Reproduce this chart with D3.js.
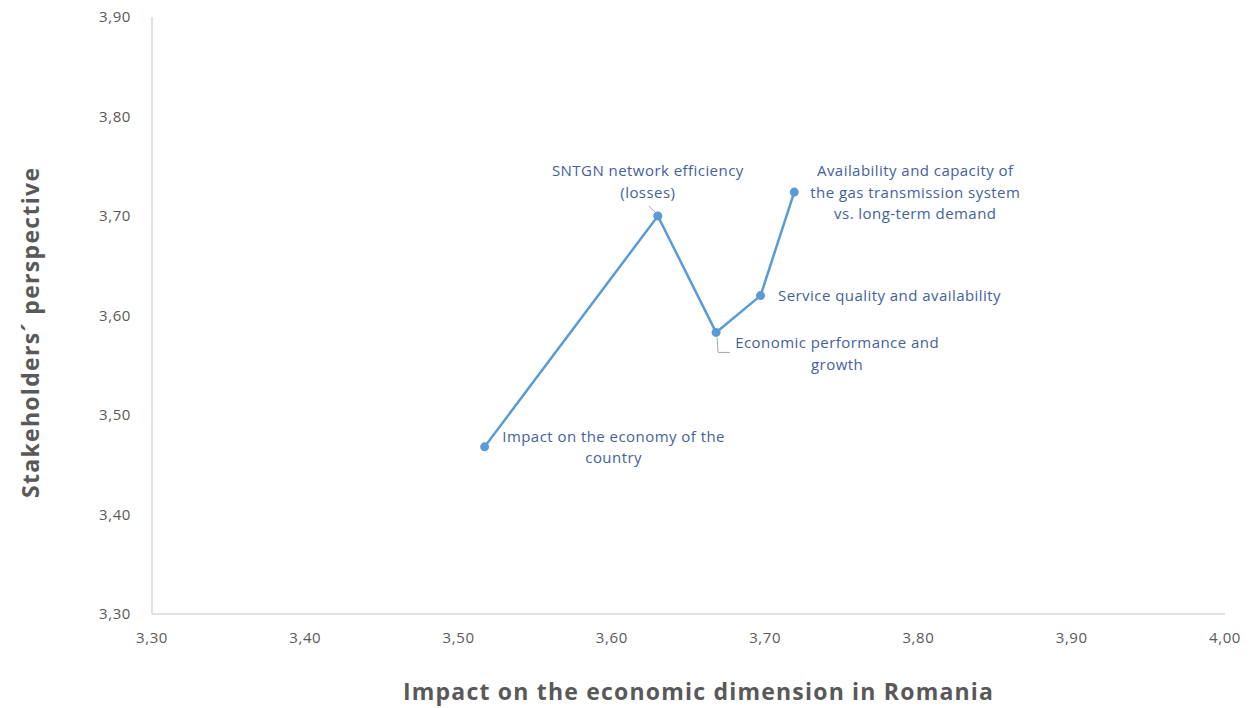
<!DOCTYPE html>
<html><head><meta charset="utf-8">
<script src="https://cdn.jsdelivr.net/npm/d3@7"></script>
<style>body{margin:0;background:#fff;}svg{display:block;font-family:"Open Sans","Noto Sans",sans-serif;}</style>
</head><body>
<svg id="c" width="1251" height="708"></svg>
<script>
const labels = [
  ["Impact on the economy of the", "country"],
  ["SNTGN network efficiency", "(losses)"],
  ["Economic performance and", "growth"],
  ["Service quality and availability"],
  ["Availability and capacity of", "the gas transmission system", "vs. long-term demand"]
];
const xValues = [3.517, 3.630, 3.668, 3.697, 3.719];
const yValues = [3.468, 3.700, 3.583, 3.620, 3.724];
const xTicks = [3.30, 3.40, 3.50, 3.60, 3.70, 3.80, 3.90, 4.00];
const yTicks = [3.30, 3.40, 3.50, 3.60, 3.70, 3.80, 3.90];
// label offsets (dx, dy of first line center relative to point) — layout only
const labelPos = [[129, -10], [-10, -45], [121, 11], [129, 0], [121, -21]];

const svg = d3.select("#c");
const x = d3.scaleLinear().domain([3.3, 4.0]).range([152, 1225]);
const y = d3.scaleLinear().domain([3.3, 3.9]).range([614, 17]);
const fmt = v => v.toFixed(2).replace(".", ",");

// axes lines
svg.append("line").attr("x1", x(3.3)).attr("x2", x(3.3)).attr("y1", y(3.9)).attr("y2", y(3.3)).attr("stroke", "#d9d9d9").attr("stroke-width", 1.5);
svg.append("line").attr("x1", x(3.3)).attr("x2", x(4.0)).attr("y1", y(3.3)).attr("y2", y(3.3)).attr("stroke", "#d9d9d9").attr("stroke-width", 1.5);

svg.append("g").selectAll("text").data(yTicks).join("text")
  .attr("x", 131).attr("y", d => y(d) + 5).attr("text-anchor", "end")
  .attr("font-size", 15).attr("letter-spacing", 0.6).attr("fill", "#595959").text(fmt);
svg.append("g").selectAll("text").data(xTicks).join("text")
  .attr("x", d => x(d)).attr("y", 643).attr("text-anchor", "middle")
  .attr("font-size", 15).attr("letter-spacing", 0.6).attr("fill", "#595959").text(fmt);

// titles
svg.append("text").attr("x", 698).attr("y", 700).attr("text-anchor", "middle")
  .attr("font-size", 23).attr("font-weight", "bold").attr("fill", "#595959")
  .attr("textLength", 590).attr("lengthAdjust", "spacing")
  .text("Impact on the economic dimension in Romania");
svg.append("text").attr("transform", "translate(39,333) rotate(-90)").attr("text-anchor", "middle")
  .attr("font-size", 23).attr("font-weight", "bold").attr("fill", "#595959")
  .attr("textLength", 330).attr("lengthAdjust", "spacing")
  .text("Stakeholders´ perspective");

const pts = xValues.map((v, i) => ({x: v, y: yValues[i], lab: labels[i], off: labelPos[i]}));

// leader lines
const p1 = pts[1], p2 = pts[2];
svg.append("line").attr("x1", x(p1.x) - 9).attr("y1", y(p1.y) - 10).attr("x2", x(p1.x) - 2).attr("y2", y(p1.y) - 3)
  .attr("stroke", "#a6a6a6").attr("stroke-width", 1);
svg.append("polyline").attr("points", [[x(p2.x) + 1, y(p2.y) + 5], [x(p2.x) + 2, y(p2.y) + 20], [x(p2.x) + 14, y(p2.y) + 20]].map(p => p.join(",")).join(" "))
  .attr("fill", "none").attr("stroke", "#a6a6a6").attr("stroke-width", 1);

svg.append("path").datum(pts)
  .attr("d", d3.line().x(d => x(d.x)).y(d => y(d.y)))
  .attr("fill", "none").attr("stroke", "#5b9bd5").attr("stroke-width", 2.5);
svg.append("g").selectAll("circle").data(pts).join("circle")
  .attr("cx", d => x(d.x)).attr("cy", d => y(d.y)).attr("r", 4.5).attr("fill", "#5b9bd5");

const lg = svg.append("g").selectAll("text").data(pts).join("text")
  .attr("text-anchor", "middle").attr("font-size", 15).attr("letter-spacing", 0.45).attr("fill", "#44619d");
lg.each(function(d) {
  const t = d3.select(this);
  d.lab.forEach((s, i) => {
    t.append("tspan").attr("x", x(d.x) + d.off[0]).attr("y", y(d.y) + d.off[1] + 5 + i * 21.5).text(s);
  });
});
</script>
</body></html>
